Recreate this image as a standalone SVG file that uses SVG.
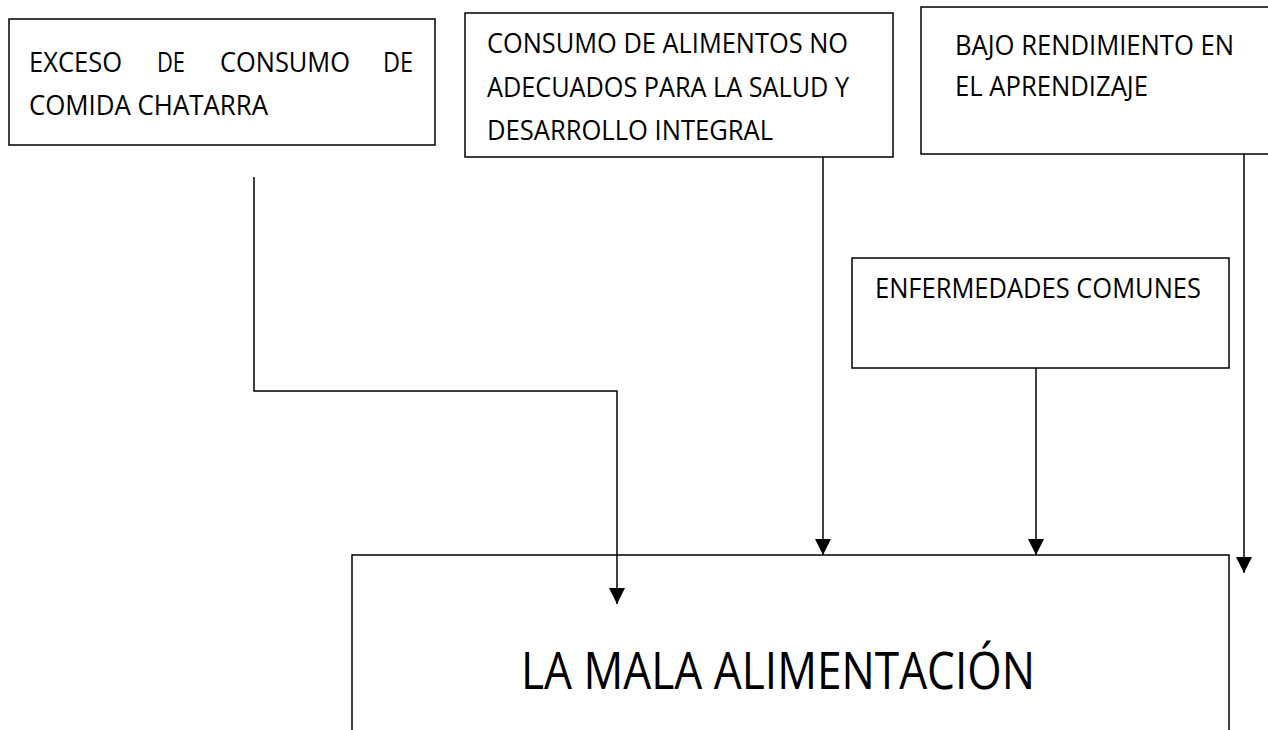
<svg xmlns="http://www.w3.org/2000/svg" width="1268" height="730" viewBox="0 0 1268 730">
<style>
.box{fill:#fff;stroke:#000;stroke-width:1.5}
.t{font-family:"Open Sans","Liberation Sans",sans-serif;font-size:27px;fill:#000}
.big{font-family:"Open Sans","Liberation Sans",sans-serif;font-size:52px;fill:#000}
.c{fill:none;stroke:#000;stroke-width:1.5}
</style>
<defs>
<marker id="ah" markerUnits="userSpaceOnUse" markerWidth="17" markerHeight="17" viewBox="0 0 17 17" refX="16" refY="8.5" orient="auto">
<path d="M0,0.5 L16,8.5 L0,16.5 Z" fill="#000"/>
</marker>
</defs>
<rect width="1268" height="730" fill="#fff"/>
<g id="n-main">
<rect class="box" x="352" y="555" width="877" height="200"/>
<text class="big" x="521" y="689" textLength="514" lengthAdjust="spacingAndGlyphs">LA MALA ALIMENTACIÓN</text>
</g>
<g id="n-exceso">
<rect class="box" x="9" y="19" width="426" height="126"/>
<text class="t" x="29" y="72" textLength="93" lengthAdjust="spacingAndGlyphs">EXCESO</text>
<text class="t" x="157" y="72" textLength="28" lengthAdjust="spacingAndGlyphs">DE</text>
<text class="t" x="220" y="72" textLength="130" lengthAdjust="spacingAndGlyphs">CONSUMO</text>
<text class="t" x="383" y="72" textLength="30" lengthAdjust="spacingAndGlyphs">DE</text>
<text class="t" x="29" y="115" textLength="239" lengthAdjust="spacingAndGlyphs">COMIDA CHATARRA</text>
</g>
<g id="n-consumo">
<rect class="box" x="465" y="13" width="428" height="144"/>
<text class="t" x="487" y="53" textLength="361" lengthAdjust="spacingAndGlyphs">CONSUMO DE ALIMENTOS NO</text>
<text class="t" x="487" y="97" textLength="362" lengthAdjust="spacingAndGlyphs">ADECUADOS PARA LA SALUD Y</text>
<text class="t" x="487" y="140" textLength="286" lengthAdjust="spacingAndGlyphs">DESARROLLO INTEGRAL</text>
</g>
<g id="n-bajo">
<rect class="box" x="921" y="7" width="360" height="147"/>
<text class="t" x="955" y="55" textLength="279" lengthAdjust="spacingAndGlyphs">BAJO RENDIMIENTO EN</text>
<text class="t" x="955" y="96" textLength="193" lengthAdjust="spacingAndGlyphs">EL APRENDIZAJE</text>
</g>
<g id="n-enfermedades">
<rect class="box" x="852" y="258" width="377" height="110"/>
<text class="t" x="875" y="298" textLength="326" lengthAdjust="spacingAndGlyphs">ENFERMEDADES COMUNES</text>
</g>
<g id="connectors">
<path class="c" d="M254,177 V391 H617 V604" marker-end="url(#ah)"/>
<path class="c" d="M823,157 V555" marker-end="url(#ah)"/>
<path class="c" d="M1036,368 V555" marker-end="url(#ah)"/>
<path class="c" d="M1244,154 V573" marker-end="url(#ah)"/>
</g>
</svg>
